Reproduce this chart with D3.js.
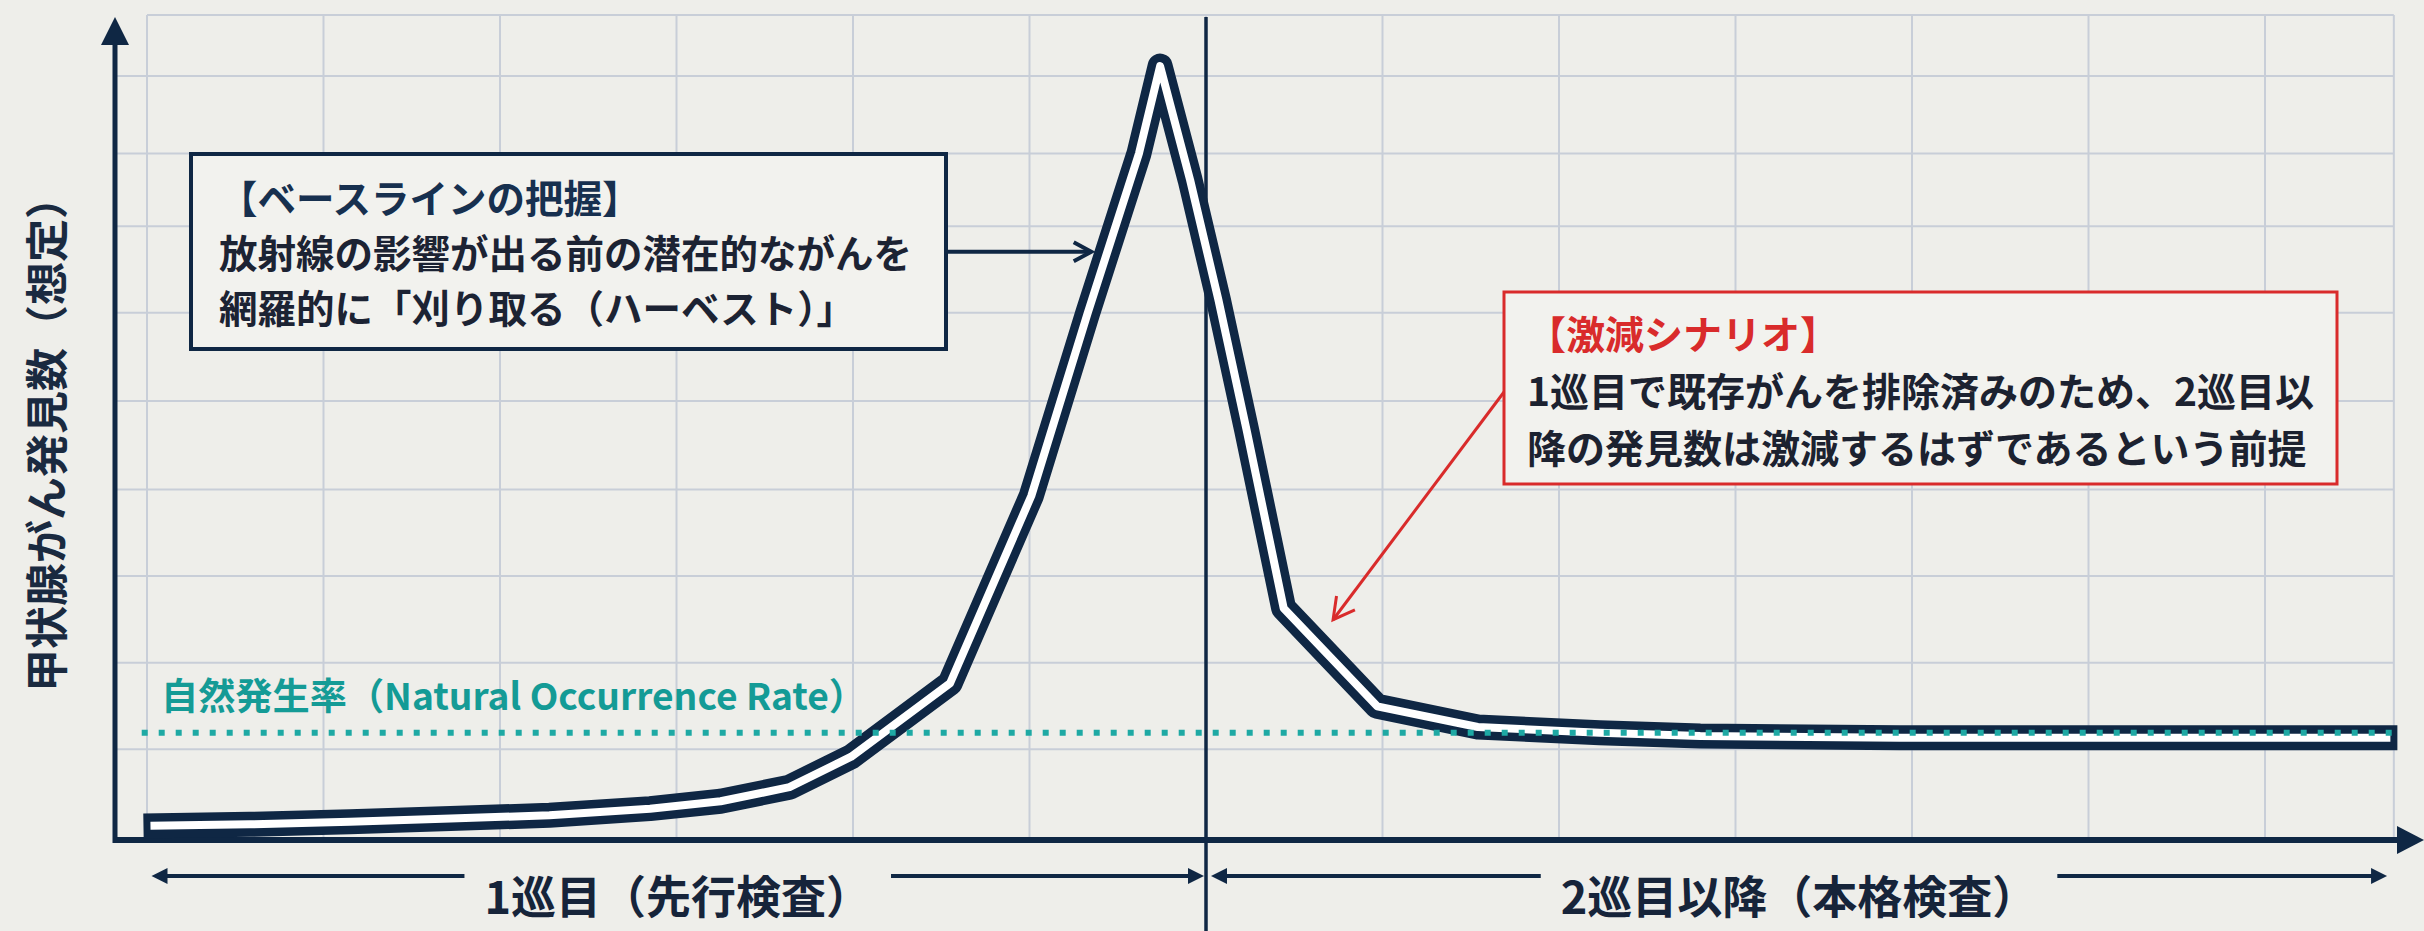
<!DOCTYPE html>
<html>
<head>
<meta charset="utf-8">
<script src="https://cdn.jsdelivr.net/npm/d3@7"></script>
<style>
  html, body { margin: 0; padding: 0; background: #eeeeea; }
  svg { display: block; }
  text { font-family: "Noto Sans CJK JP", "Noto Sans", sans-serif; }
</style>
</head>
<body>
<svg id="chart" width="2424" height="931"></svg>
<script>
// curve: x in grid columns, y in relative detections (0-100)
const curveX = [-0.02, 0.58, 1.15, 1.72, 2.28, 2.85, 3.25, 3.64, 3.99, 4.55, 5.01, 5.33, 5.62, 5.74,
  5.91, 6.07, 6.23, 6.44, 6.97, 7.54, 8.23, 8.8, 9.93, 12.75];
const curveY = [1.7, 1.9, 2.2, 2.6, 3.0, 3.8, 4.7, 6.4, 10.1, 19, 41.7, 63.9, 83.2, 93.8,
  80, 65.5, 49.7, 28.1, 16.2, 13.7, 13.0, 12.6, 12.4, 12.4];

const naturalRate = 13.0;
const naturalSpan = [-0.03, 12.73];

const xGrid = [0, 1, 2, 3, 4, 5, 6, 7, 8, 9, 10, 11, 12];
const xFrameEnd = 12.73;
const yGrid = [11, 21.5, 32, 42.5, 53.2, 63.9, 74.4, 83.2, 92.6];
const yFrameTop = 100;

// phase boundaries (grid columns)
const phaseBounds = [-0.02, 6, 12.72];
const phaseLabels = ['1巡目（先行検査）', '2巡目以降（本格検査）'];

const yAxisLabel = '甲状腺がん発見数（想定）';
const naturalLabel = '自然発生率（Natural Occurrence Rate）';
const baselineNote = ['【ベースラインの把握】', '放射線の影響が出る前の潜在的ながんを', '網羅的に「刈り取る（ハーベスト）」'];
const dropNote = ['【激減シナリオ】', '1巡目で既存がんを排除済みのため、2巡目以', '降の発見数は激減するはずであるという前提'];
// points the callouts aim at
const baselineTarget = [5.35, 71.3];
const dropTarget = [6.72, 26.7];

const navy = '#0f2744';
const red = '#d92b2b';
const teal = '#1ea9a4';
const gridColor = '#c8ced8';

const svg = d3.select('#chart');
const x = d3.scaleLinear().domain([0, 12]).range([147, 2265]);
const y = d3.scaleLinear().domain([0, 100]).range([840, 15]);
const axisX = 115;
const axisY = y(0);

// grid
const grid = svg.append('g').attr('stroke', gridColor).attr('stroke-width', 2);
grid.selectAll('.hg')
  .data(yGrid)
  .enter().append('line')
  .attr('x1', axisX).attr('x2', x(xFrameEnd))
  .attr('y1', d => y(d)).attr('y2', d => y(d));
grid.append('line')
  .attr('x1', x(0)).attr('x2', x(xFrameEnd))
  .attr('y1', y(yFrameTop)).attr('y2', y(yFrameTop));
grid.selectAll('.vg')
  .data(xGrid.concat([xFrameEnd]))
  .enter().append('line')
  .attr('x1', d => x(d)).attr('x2', d => x(d))
  .attr('y1', y(yFrameTop)).attr('y2', axisY);

// phase divider
svg.append('line')
  .attr('x1', x(phaseBounds[1])).attr('x2', x(phaseBounds[1]))
  .attr('y1', 17).attr('y2', 931)
  .attr('stroke', navy).attr('stroke-width', 3.5);

// axes
svg.append('line')
  .attr('x1', axisX).attr('x2', axisX)
  .attr('y1', axisY + 3).attr('y2', 40)
  .attr('stroke', navy).attr('stroke-width', 5);
svg.append('path')
  .attr('d', `M${axisX},17 L${axisX - 14},45 L${axisX + 14},45 Z`)
  .attr('fill', navy);
svg.append('line')
  .attr('x1', axisX - 2).attr('x2', 2400)
  .attr('y1', axisY).attr('y2', axisY)
  .attr('stroke', navy).attr('stroke-width', 6);
svg.append('path')
  .attr('d', `M2424,${axisY} L2397,${axisY - 14} L2397,${axisY + 14} Z`)
  .attr('fill', navy);

// curve
const curveData = curveX.map((d, i) => ({ x: d, y: curveY[i] }));
const line = d3.line()
  .x(d => x(d.x))
  .y(d => y(d.y))
  .curve(d3.curveLinear);

svg.append('path')
  .datum(curveData)
  .attr('d', line)
  .attr('fill', 'none')
  .attr('stroke', navy)
  .attr('stroke-width', 25)
  .attr('stroke-linejoin', 'round');
const inner = svg.append('path')
  .datum(curveData)
  .attr('d', line)
  .attr('fill', 'none')
  .attr('stroke', '#ffffff')
  .attr('stroke-width', 8)
  .attr('stroke-linejoin', 'round');
const innerLen = inner.node().getTotalLength();
inner.attr('stroke-dasharray', `0 7 ${innerLen - 14} ${innerLen}`);

// natural occurrence rate
svg.append('line')
  .attr('x1', x(naturalSpan[0])).attr('x2', x(naturalSpan[1]))
  .attr('y1', y(naturalRate)).attr('y2', y(naturalRate))
  .attr('stroke', teal).attr('stroke-width', 6)
  .attr('stroke-dasharray', '6 11');
svg.append('text')
  .attr('x', 161).attr('y', y(naturalRate) - 23)
  .attr('fill', '#149b96')
  .attr('font-size', 37).attr('font-weight', 700)
  .attr('textLength', 705).attr('lengthAdjust', 'spacingAndGlyphs')
  .text(naturalLabel);

// y axis label
svg.append('text')
  .attr('transform', 'translate(44, 434) rotate(-90)')
  .attr('text-anchor', 'middle')
  .attr('dominant-baseline', 'central')
  .attr('fill', '#1a2a40')
  .attr('font-size', 43).attr('font-weight', 700)
  .text(yAxisLabel);

// phase labels with arrows
const phaseY = 876;
function arrowHead(px, dir) {
  return `M${px},${phaseY} L${px - dir * 16},${phaseY - 8} L${px - dir * 16},${phaseY + 8} Z`;
}
phaseLabels.forEach((label, i) => {
  const x0 = x(phaseBounds[i]) + (i === 0 ? 8 : 5);
  const x1 = x(phaseBounds[i + 1]) - (i === 0 ? 2 : 5);
  const cx = (x0 + x1) / 2;
  const t = svg.append('text')
    .attr('x', cx).attr('y', phaseY + 38)
    .attr('text-anchor', 'middle')
    .attr('fill', '#16243a')
    .attr('font-size', 45).attr('font-weight', 700)
    .text(label);
  const w = t.node().getComputedTextLength();
  const g = svg.append('g').attr('stroke', navy).attr('stroke-width', 4);
  g.append('line').attr('x1', x0 + 10).attr('x2', cx - w / 2 - 20)
    .attr('y1', phaseY).attr('y2', phaseY);
  g.append('line').attr('x1', cx + w / 2 + 20).attr('x2', x1 - 10)
    .attr('y1', phaseY).attr('y2', phaseY);
  svg.append('path').attr('d', arrowHead(x0, -1)).attr('fill', navy);
  svg.append('path').attr('d', arrowHead(x1, 1)).attr('fill', navy);
});

// callout helper
function chevron(tx, ty, fx, fy, len, color, width) {
  const a = Math.atan2(ty - fy, tx - fx);
  const s = 0.5;
  const p1 = [tx - len * Math.cos(a - s), ty - len * Math.sin(a - s)];
  const p2 = [tx - len * Math.cos(a + s), ty - len * Math.sin(a + s)];
  svg.append('path')
    .attr('d', `M${p1[0]},${p1[1]} L${tx},${ty} L${p2[0]},${p2[1]}`)
    .attr('fill', 'none').attr('stroke', color).attr('stroke-width', width)
    .attr('stroke-linejoin', 'miter');
}

// baseline callout
const b1 = { x: 191, y: 154, w: 755, h: 195 };
const t1x = x(baselineTarget[0]), t1y = y(baselineTarget[1]);
svg.append('line')
  .attr('x1', b1.x + b1.w).attr('x2', t1x - 2)
  .attr('y1', t1y).attr('y2', t1y)
  .attr('stroke', navy).attr('stroke-width', 4);
chevron(t1x, t1y, b1.x + b1.w, t1y, 20, navy, 4);
svg.append('rect')
  .attr('x', b1.x).attr('y', b1.y).attr('width', b1.w).attr('height', b1.h)
  .attr('fill', '#f2f2ee').attr('stroke', navy).attr('stroke-width', 4);
baselineNote.forEach((s, i) => {
  svg.append('text')
    .attr('x', 219).attr('y', 213 + i * 55)
    .attr('fill', i === 0 ? '#17304f' : '#1c2333')
    .attr('font-size', 38.5).attr('font-weight', 700)
    .text(s);
});

// drop callout
const b2 = { x: 1504, y: 292, w: 833, h: 192 };
const t2x = x(dropTarget[0]), t2y = y(dropTarget[1]);
svg.append('line')
  .attr('x1', b2.x).attr('y1', 392)
  .attr('x2', t2x).attr('y2', t2y)
  .attr('stroke', red).attr('stroke-width', 3);
chevron(t2x, t2y, b2.x, 392, 24, red, 3);
svg.append('rect')
  .attr('x', b2.x).attr('y', b2.y).attr('width', b2.w).attr('height', b2.h)
  .attr('fill', '#f2f2ee').attr('stroke', red).attr('stroke-width', 3);
dropNote.forEach((s, i) => {
  svg.append('text')
    .attr('x', 1527).attr('y', 349 + i * 57)
    .attr('fill', i === 0 ? red : '#1c2230')
    .attr('font-size', 39).attr('font-weight', 700)
    .text(s);
});
</script>
</body>
</html>
